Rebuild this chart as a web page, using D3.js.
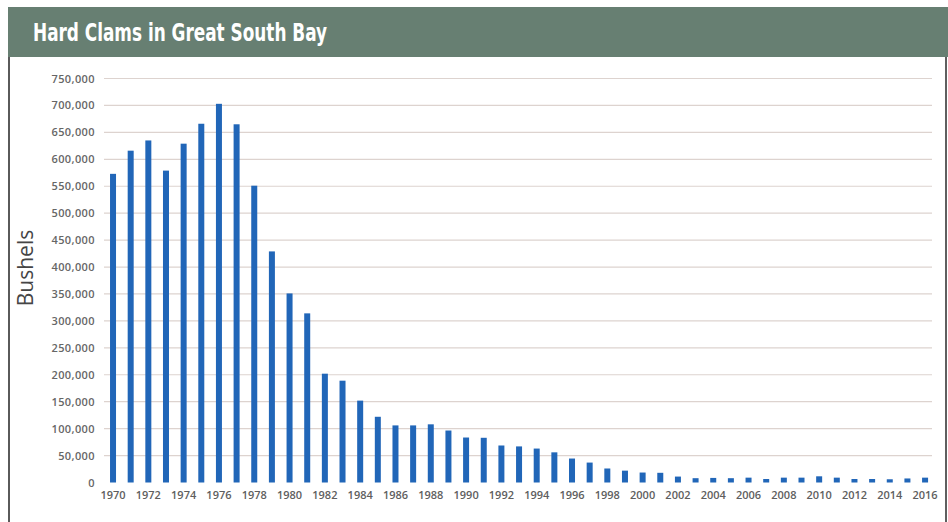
<!DOCTYPE html>
<html><head><meta charset="utf-8">
<script src="https://cdn.jsdelivr.net/npm/d3@7"></script>
<style>html,body{margin:0;padding:0;background:#fff;}svg{display:block;}</style>
</head><body>
<script>
const title = "Hard Clams in Great South Bay";
const yAxisLabel = "Bushels";
const years = d3.range(1970, 2017).map(String);
const bushels = [573000, 616000, 635000, 579000, 629000, 666000, 703000, 665000, 551000, 429000,
  351000, 314000, 202000, 189000, 152000, 122000, 106000, 106000, 108000, 96500,
  83500, 83000, 68700, 67000, 63000, 56000, 44500, 37000, 26000, 22000,
  18500, 18000, 11000, 8000, 8500, 8000, 9000, 6500, 9000, 9000,
  11500, 9000, 6500, 6500, 6000, 7500, 9000];
const yTicks = d3.range(0, 750001, 50000);
const xTickLabels = years.filter((d,i)=> i % 2 === 0);

const W = 948, H = 522;
const svg = d3.select("body").append("svg").attr("width", W).attr("height", H);

// header band
svg.append("rect").attr("x", 8).attr("y", 7).attr("width", W - 8).attr("height", 50).attr("fill", "#677f72");
svg.append("text").attr("x", 33).attr("y", 41)
  .attr("font-family", "'Liberation Sans Narrow','DejaVu Sans Condensed',sans-serif")
  .attr("font-weight", "bold").attr("font-size", 24).attr("fill", "#fff")
  .attr("textLength", 294).attr("lengthAdjust", "spacingAndGlyphs")
  .text(title);

// frame borders
svg.append("line").attr("x1", 9).attr("x2", 9).attr("y1", 57).attr("y2", H).attr("stroke", "#5a5a5a").attr("stroke-width", 2);
svg.append("line").attr("x1", 946).attr("x2", 946).attr("y1", 57).attr("y2", H).attr("stroke", "#2a2a2a").attr("stroke-width", 1.5);

const x = d3.scaleBand().domain(years).range([104.2, 933.9]).paddingInner(0.66).paddingOuter(0.33);
const y = d3.scaleLinear().domain([0, 750000]).range([482.5, 78.5]);

// gridlines
svg.append("g").selectAll("line").data(yTicks.filter(d=>d>0)).join("line")
  .attr("x1", 104).attr("x2", 932).attr("y1", d=>y(d)).attr("y2", d=>y(d))
  .attr("stroke", "#ddd3cf").attr("stroke-width", 1.2);

// y axis labels
const yAxis = d3.axisLeft(y).tickValues(yTicks).tickFormat(d3.format(",")).tickSize(0).tickPadding(0);
const gy = svg.append("g").attr("transform", "translate(95,0)").call(yAxis);
gy.select(".domain").remove();
gy.selectAll("text").attr("font-family", "'Open Sans',sans-serif").attr("font-size", 11)
  .attr("font-weight", 600).attr("fill", "#666").attr("letter-spacing", 0.4);

// x axis labels
const xAxis = d3.axisBottom(x).tickValues(xTickLabels).tickSize(0).tickPadding(0);
const gx = svg.append("g").attr("transform", "translate(0,491)").call(xAxis);
gx.select(".domain").remove();
gx.selectAll("text").attr("font-family", "'Open Sans',sans-serif").attr("font-size", 11)
  .attr("font-weight", 600).attr("fill", "#5e5e5e").attr("dy", "0.71em");

// bars
svg.append("g").selectAll("rect").data(years).join("rect")
  .attr("x", d=>x(d)).attr("width", x.bandwidth())
  .attr("y", (d,i)=>y(bushels[i])).attr("height", (d,i)=>y(0)-y(bushels[i]))
  .attr("fill", "#2166b8");

// y axis title
svg.append("text").attr("transform", "translate(33,268) rotate(-90)")
  .attr("text-anchor", "middle").attr("font-family", "'Open Sans',sans-serif")
  .attr("font-size", 21).attr("fill", "#454545").text(yAxisLabel);
</script>
</body></html>
